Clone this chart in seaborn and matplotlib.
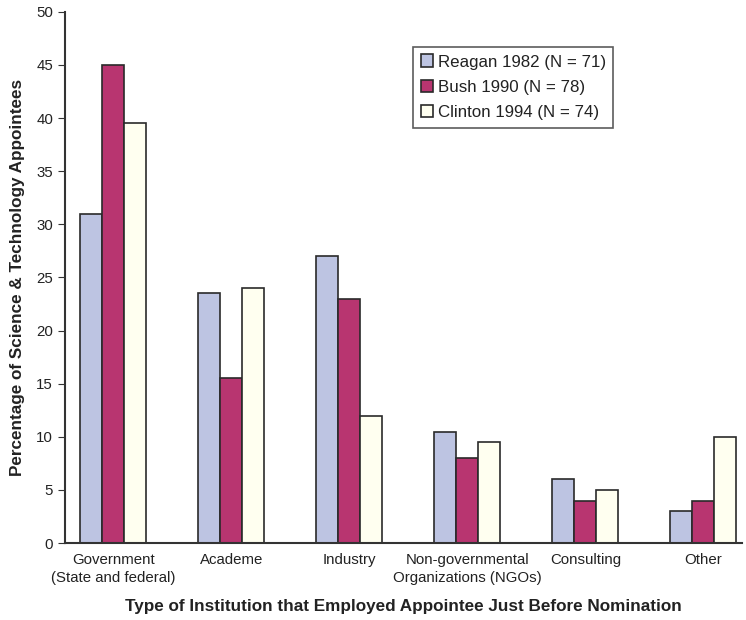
import matplotlib
matplotlib.use("Agg")
import matplotlib.pyplot as plt
import seaborn as sns
import pandas as pd

categories = ["Government\n(State and federal)", "Academe", "Industry",
              "Non-governmental\nOrganizations (NGOs)", "Consulting", "Other"]
series_names = ["Reagan 1982 (N = 71)", "Bush 1990 (N = 78)", "Clinton 1994 (N = 74)"]
reagan = [31, 23.5, 27, 10.5, 6, 3]
bush = [45, 15.5, 23, 8, 4, 4]
clinton = [39.5, 24, 12, 9.5, 5, 10]
colors = ["#BDC4E2", "#B83570", "#FFFFF0"]

rows = []
for name, vals in zip(series_names, [reagan, bush, clinton]):
    for c, v in zip(categories, vals):
        rows.append({"Institution": c, "Series": name, "Value": v})
df = pd.DataFrame(rows)

sns.set_style("ticks")
plt.rcParams["font.family"] = ["Liberation Sans", "DejaVu Sans"]

fig = plt.figure(figsize=(7.46, 6.2), dpi=100)
ax = fig.add_axes([0.087, 0.124, 0.908, 0.857])
sns.barplot(data=df, x="Institution", y="Value", hue="Series", order=categories,
            hue_order=series_names, palette=colors, width=0.56,
            edgecolor="#2a2a2a", linewidth=1.2, ax=ax, errorbar=None, saturation=1)

ax.set_xlim(-0.41, 5.33)
ax.set_ylim(0, 50)
ax.set_yticks(range(0, 51, 5))
ax.tick_params(axis="y", labelsize=10.8, direction="out", length=5, color="#333333",
               labelcolor="#222222")
ax.tick_params(axis="x", labelsize=10.8, length=0, pad=7, labelcolor="#222222")
for lab in ax.get_xticklabels():
    lab.set_linespacing(1.35)
for s in ["top", "right"]:
    ax.spines[s].set_visible(False)
for s in ["left", "bottom"]:
    ax.spines[s].set_color("#333333")
    ax.spines[s].set_linewidth(1.5)

ax.set_ylabel("Percentage of Science & Technology Appointees", fontsize=12.3,
              fontweight="bold", labelpad=8, color="#222222")
ax.set_xlabel("Type of Institution that Employed Appointee Just Before Nomination",
              fontsize=12.3, fontweight="bold", labelpad=10, color="#222222")

leg = ax.legend(loc="upper left", bbox_to_anchor=(0.514, 0.934), fontsize=12.2,
                frameon=True, fancybox=False, edgecolor="#333333",
                handlelength=0.75, handleheight=0.75, handletextpad=0.25,
                borderpad=0.45, labelspacing=0.6, borderaxespad=0)
leg.get_frame().set_linewidth(1.2)
for t in leg.get_texts():
    t.set_color("#222222")

fig.savefig("out.png", dpi=100)
